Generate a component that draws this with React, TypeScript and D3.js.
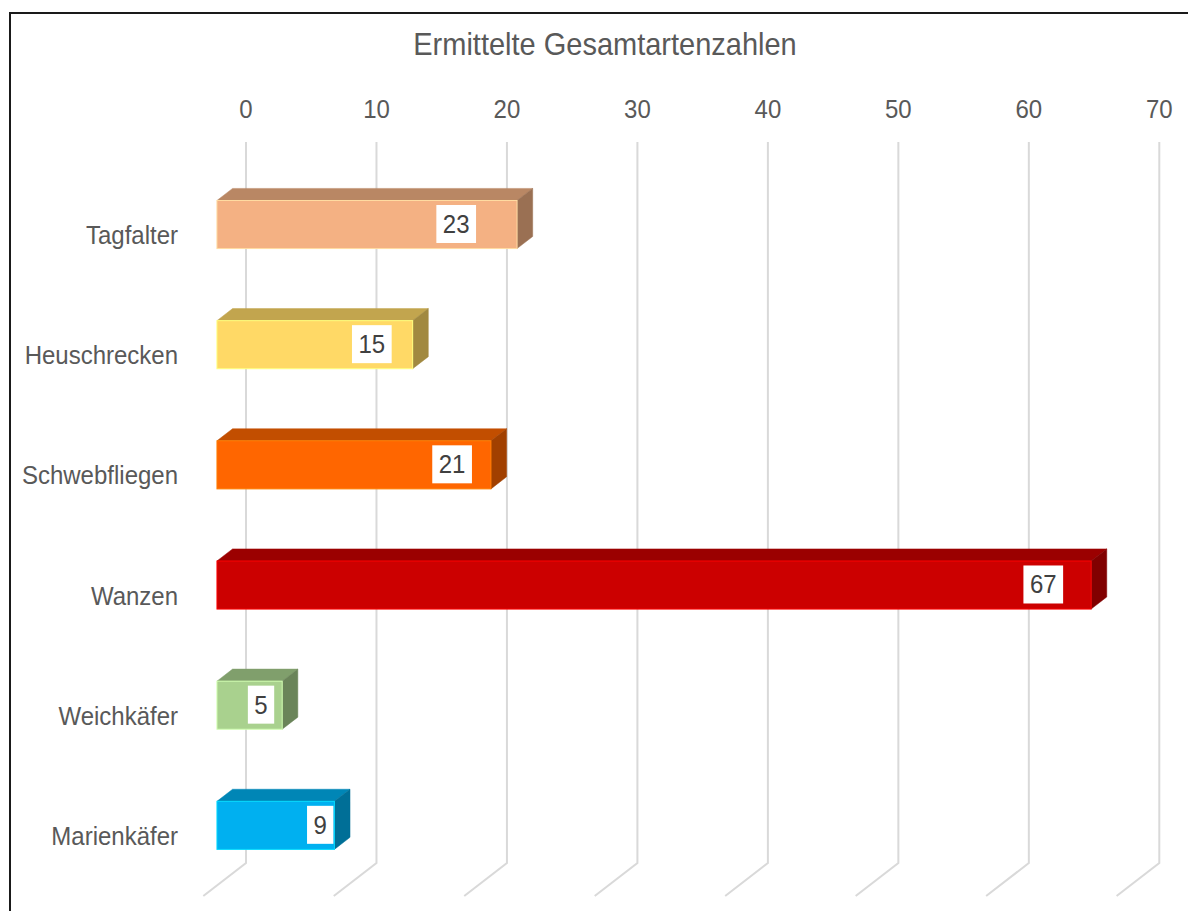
import React from "react";
import * as d3 from "d3";

const categories = ["Tagfalter", "Heuschrecken", "Schwebfliegen", "Wanzen", "Weichkäfer", "Marienkäfer"];
const values = [23, 15, 21, 67, 5, 9];
const frontColors = ["#F4B183", "#FFD966", "#FF6600", "#CC0000", "#A9D18E", "#00B0F0"];
const tickValues = [0, 10, 20, 30, 40, 50, 60, 70];
const title = "Ermittelte Gesamtartenzahlen";
// distance of each data-label box from the bar end (as placed in the original)
const labelInset = [41, 21, 19, 28, 8, 1];

const W = 1188;
const H = 911;
const FONT = "'Liberation Sans', Arial, Helvetica, sans-serif";
const TXT = "#595959";
const SY = 1.07;

const depth = { dx: -42.7, dy: 33 };
const zFront = 0.68;
const zBack = 0.314;

function shade(c: string, k: number) {
  const r = d3.rgb(c);
  return d3.rgb(r.r * k, r.g * k, r.b * k).formatHex();
}

function T(props: { x: number; y: number; size: number; anchor?: string; fill?: string; children: any }) {
  return (
    <text
      transform={`translate(${props.x},${props.y}) scale(1,${SY})`}
      fontFamily={FONT}
      fontSize={props.size}
      textAnchor={props.anchor || "middle"}
      fill={props.fill || TXT}
    >
      {props.children}
    </text>
  );
}

export default function App() {
  const x = d3.scaleLinear().domain([0, 70]).range([246, 1159.3]);
  const y = d3.scaleBand<string>().domain(categories).range([142, 863]).paddingInner(0.6).paddingOuter(0.3);
  const bw = y.bandwidth();
  const yTop = 142;
  const yBot = 863;

  const proj = (px: number, py: number, z: number): [number, number] => [px + z * depth.dx, py + z * depth.dy];
  const poly = (pts: [number, number][]) => pts.map((p) => p.join(",")).join(" ");

  return (
    <svg width={W} height={H} style={{ position: "absolute", left: 0, top: 0, background: "#fff" }}>
      <rect x={0} y={0} width={W} height={H} fill="#fff" />
      <rect x={10} y={13} width={W + 20} height={H + 20} fill="none" stroke="#1a1a1a" strokeWidth={2} />

      <T x={605} y={55} size={29}>{title}</T>

      {tickValues.map((t) => {
        const gx = x(t);
        const end = proj(gx, yBot, 1);
        return (
          <g key={"g" + t}>
            <path d={`M${gx},${yTop} L${gx},${yBot} L${end[0]},${end[1]}`} fill="none" stroke="#D9D9D9" strokeWidth={2} />
            <T x={gx} y={118} size={24}>{String(t)}</T>
          </g>
        );
      })}

      {categories.map((c, i) => {
        const v = values[i];
        const col = frontColors[i];
        const yt = y(c)!;
        const yb = yt + bw;
        const x0 = x(0);
        const xe = x(v);
        const fTL = proj(x0, yt, zFront);
        const fTR = proj(xe, yt, zFront);
        const fBR = proj(xe, yb, zFront);
        const bTL = proj(x0, yt, zBack);
        const bTR = proj(xe, yt, zBack);
        const bBR = proj(xe, yb, zBack);
        const edge = d3.rgb(col).brighter(0.6).formatHex();
        const digits = String(v).length;
        const boxW = 13.35 * digits + 13;
        const boxH = 38;
        const boxR = fTR[0] - labelInset[i];
        const boxT = fTL[1] + 4.5;
        const labelY = y(c)! + bw / 2 + depth.dy + 9;
        return (
          <g key={c}>
            <polygon points={poly([fTL, fTR, bTR, bTL])} fill={shade(col, 0.76)} stroke={shade(col, 0.76)} strokeWidth={0.5} />
            <polygon points={poly([fTR, bTR, bBR, fBR])} fill={shade(col, 0.63)} stroke={shade(col, 0.63)} strokeWidth={0.5} />
            <rect x={fTL[0]} y={fTL[1]} width={fTR[0] - fTL[0]} height={fBR[1] - fTR[1]} fill={col} stroke={edge} strokeWidth={1} />
            <rect x={boxR - boxW} y={boxT} width={boxW} height={boxH} fill="#fff" />
            <T x={boxR - boxW / 2} y={boxT + boxH / 2 + 9} size={24} fill="#404040">{String(v)}</T>
            <T x={178} y={labelY} size={24} anchor="end">{c}</T>
          </g>
        );
      })}
    </svg>
  );
}
